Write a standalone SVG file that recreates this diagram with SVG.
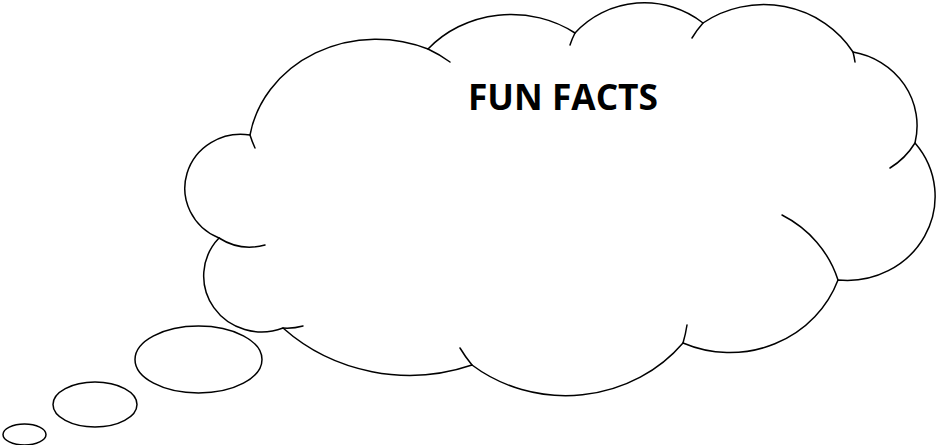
<svg xmlns="http://www.w3.org/2000/svg" width="940" height="445" viewBox="0 0 940 445">
  <style>
    .ln { fill: none; stroke: #000; stroke-width: 1.5; stroke-linecap: round; }
    .sh { fill: #fff; stroke: #000; stroke-width: 1.5; }
    .ttl { font-family: "Open Sans", "Liberation Sans", sans-serif; font-weight: bold; font-size: 35px; fill: #000; }
  </style>
  <rect width="940" height="445" fill="#fff"/>
  <g id="cloud">
    <path class="sh" d="M 250,135 A 128 115 0 0 1 428,49 A 110 100 0 0 1 575,33 A 92 88 0 0 1 703,23 A 105 100 0 0 1 853,52 A 78 75 0 0 1 915,143 A 88 84 0 0 1 838,280 A 115 110 0 0 1 683,343 A 150 140 0 0 1 472,365 A 185 175 0 0 1 283,328 A 58 56 0 0 1 219,238 A 56 54 0 0 1 250,135 Z"/>
    <path class="ln" d="M 250,135 A 128 115 0 0 0 255,148"/>
    <path class="ln" d="M 428,49 A 128 115 0 0 1 450,62"/>
    <path class="ln" d="M 575,33 A 92 88 0 0 0 570,45"/>
    <path class="ln" d="M 703,23 A 105 100 0 0 0 692,38"/>
    <path class="ln" d="M 853,52 A 105 100 0 0 1 855,62"/>
    <path class="ln" d="M 915,143 A 78 75 0 0 1 890,168"/>
    <path class="ln" d="M 838,280 A 115 110 0 0 0 782,215"/>
    <path class="ln" d="M 683,343 A 150 140 0 0 0 687,325"/>
    <path class="ln" d="M 472,365 A 150 140 0 0 1 460,348"/>
    <path class="ln" d="M 283,328 A 58 56 0 0 0 303,326"/>
    <path class="ln" d="M 219,238 A 56 54 0 0 0 265,245"/>
    <text class="ttl" x="468" y="110" textLength="190" lengthAdjust="spacingAndGlyphs">FUN FACTS</text>
  </g>
  <g id="bubble-large">
    <ellipse class="sh" cx="198.5" cy="359.5" rx="63.5" ry="33.5"/>
  </g>
  <g id="bubble-medium">
    <ellipse class="sh" cx="95" cy="404.5" rx="42" ry="22.5"/>
  </g>
  <g id="bubble-small">
    <ellipse class="sh" cx="24.5" cy="434.5" rx="21.5" ry="10.5"/>
  </g>
</svg>
